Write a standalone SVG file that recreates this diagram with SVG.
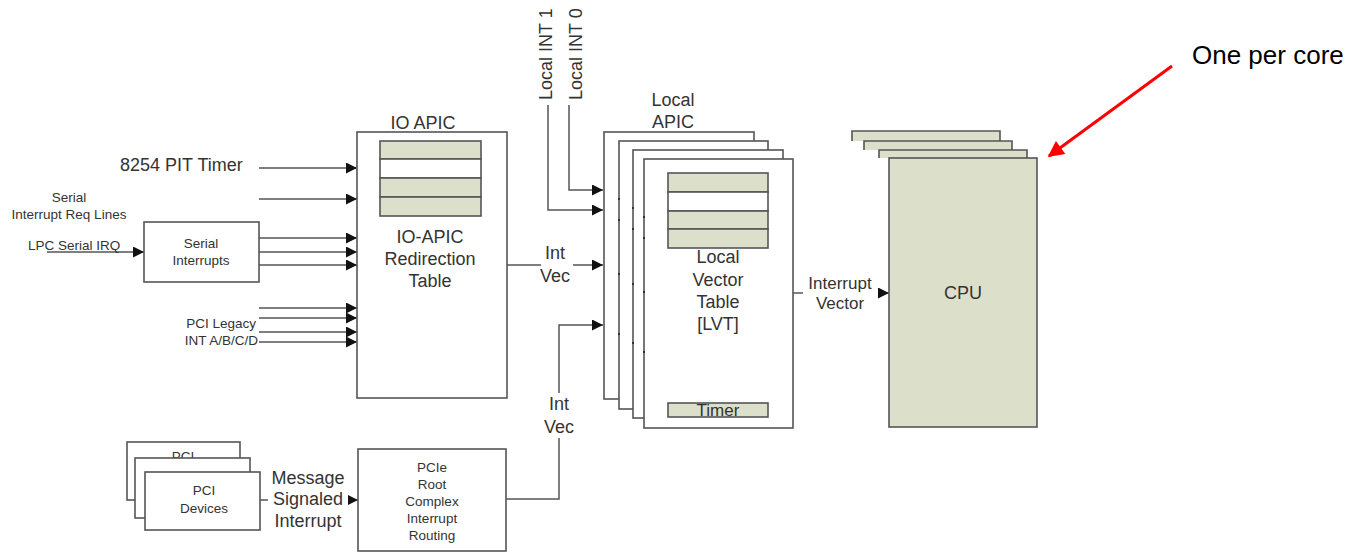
<svg xmlns="http://www.w3.org/2000/svg" width="1358" height="552" viewBox="0 0 1358 552">
<defs>
<marker id="ah" viewBox="0 0 10 10" refX="10" refY="5" markerWidth="12" markerHeight="11" markerUnits="userSpaceOnUse" orient="auto"><path d="M0,0L10,5L0,10z" fill="#111"/></marker>
<marker id="rah" viewBox="0 0 10 10" refX="9" refY="5" markerWidth="20" markerHeight="16" markerUnits="userSpaceOnUse" orient="auto"><path d="M0,0L10,5L0,10z" fill="#f00"/></marker>
<style>
.t{font-family:"Liberation Sans",Arial,sans-serif;fill:#333}
.m{text-anchor:middle}
.e{text-anchor:end}
.f18{font-size:18px}
.f17{font-size:17px}
.f13{font-size:13.5px}
.w{fill:#fff;stroke:#555;stroke-width:1.6}
.g{fill:#dcdfc9;stroke:#555;stroke-width:1.6}
.c{fill:none;stroke:#555;stroke-width:1.5}
.a{marker-end:url(#ah)}
.bg{fill:#fff;stroke:none}
.dot{fill:#333}
</style>
</defs>
<rect width="1358" height="552" fill="#fff"/>

<g id="connectors">
  <line class="c a" x1="259" y1="168" x2="357" y2="168"/>
  <line class="c a" x1="259" y1="199" x2="357" y2="199"/>
  <line class="c a" x1="47" y1="252" x2="144" y2="252"/>
  <line class="c a" x1="259" y1="238" x2="357" y2="238"/>
  <line class="c a" x1="259" y1="252" x2="357" y2="252"/>
  <line class="c a" x1="259" y1="265" x2="357" y2="265"/>
  <line class="c a" x1="259" y1="308" x2="357" y2="308"/>
  <line class="c a" x1="259" y1="318" x2="357" y2="318"/>
  <line class="c a" x1="259" y1="332" x2="357" y2="332"/>
  <line class="c a" x1="259" y1="342" x2="357" y2="342"/>
  <polyline class="c a" points="548,105 548,210 603,210"/>
  <polyline class="c a" points="569,105 569,190 603,190"/>
  <line class="c a" x1="507" y1="265" x2="603" y2="265"/>
  <polyline class="c a" points="506,499 559,499 559,325 603,325"/>
  <line class="c a" x1="260" y1="500" x2="358" y2="500"/>
  <line class="c a" x1="793" y1="293" x2="889" y2="293"/>
  <line x1="1172" y1="66" x2="1049" y2="156" stroke="#f00" stroke-width="3" marker-end="url(#rah)"/>
</g>

<g id="local-int-labels">
  <text class="t f18" x="552" y="100" transform="rotate(-90 552 100)">Local INT 1</text>
  <text class="t f18" x="582" y="100" transform="rotate(-90 582 100)">Local INT 0</text>
</g>

<g id="pit-label">
  <text class="t f18" x="120" y="171">8254 PIT Timer</text>
</g>

<g id="serial-lines-label">
  <text class="t f13 m" x="69" y="202">Serial</text>
  <text class="t f13 m" x="69" y="219">Interrupt Req Lines</text>
</g>

<g id="lpc-label">
  <text class="t f13" x="28" y="250">LPC Serial IRQ</text>
</g>

<g id="serial-interrupts">
  <rect class="w" x="144" y="222" width="115" height="60"/>
  <text class="t f13 m" x="201" y="248">Serial</text>
  <text class="t f13 m" x="201" y="265">Interrupts</text>
</g>

<g id="pci-legacy-label">
  <text class="t f13 e" x="256" y="328">PCI Legacy</text>
  <text class="t f13 e" x="258" y="345">INT A/B/C/D</text>
</g>

<g id="io-apic">
  <text class="t f18 m" x="423" y="129">IO APIC</text>
  <rect class="w" x="357" y="132" width="150" height="266"/>
  <rect class="g" x="380" y="141" width="101" height="18"/>
  <rect class="w" x="380" y="159" width="101" height="19"/>
  <rect class="g" x="380" y="178" width="101" height="19"/>
  <rect class="g" x="380" y="197" width="101" height="19"/>
  <text class="t f18 m" x="430" y="243">IO-APIC</text>
  <text class="t f18 m" x="430" y="265">Redirection</text>
  <text class="t f18 m" x="430" y="287">Table</text>
</g>

<g id="int-vec-1">
  <rect class="bg" x="538" y="240" width="35" height="50"/>
  <line class="c" x1="538" y1="265" x2="541" y2="265"/>
  <text class="t f18 m" x="555" y="259">Int</text>
  <text class="t f18 m" x="555" y="282">Vec</text>
</g>

<g id="int-vec-2">
  <rect class="bg" x="542" y="393" width="34" height="45"/>
  <text class="t f18 m" x="559" y="410">Int</text>
  <text class="t f18 m" x="559" y="433">Vec</text>
</g>

<g id="local-apic">
  <text class="t f18 m" x="673" y="106">Local</text>
  <text class="t f18 m" x="673" y="128">APIC</text>
  <rect class="w" x="604" y="132" width="150" height="267"/>
  <rect class="w" x="619" y="141" width="149" height="268"/>
  <g class="dot"><rect x="618" y="198" width="2" height="2"/><rect x="618" y="219" width="2" height="2"/><rect x="618" y="273" width="2" height="2"/><rect x="618" y="333" width="2" height="2"/></g>
  <rect class="w" x="633" y="150" width="150" height="268"/>
  <g class="dot"><rect x="632" y="207" width="2" height="2"/><rect x="632" y="228" width="2" height="2"/><rect x="632" y="283" width="2" height="2"/><rect x="632" y="342" width="2" height="2"/></g>
  <rect class="w" x="644" y="159" width="149" height="269"/>
  <g class="dot"><rect x="643" y="216" width="2" height="2"/><rect x="643" y="237" width="2" height="2"/><rect x="643" y="291" width="2" height="2"/><rect x="643" y="351" width="2" height="2"/></g>
  <rect class="g" x="668" y="173" width="100" height="19"/>
  <rect class="w" x="668" y="192" width="100" height="19"/>
  <rect class="g" x="668" y="211" width="100" height="18"/>
  <rect class="g" x="668" y="229" width="100" height="19"/>
  <text class="t f18 m" x="718" y="263">Local</text>
  <text class="t f18 m" x="718" y="286">Vector</text>
  <text class="t f18 m" x="718" y="308">Table</text>
  <text class="t f18 m" x="718" y="330">[LVT]</text>
  <rect class="g" x="668" y="403" width="100" height="14"/>
  <text class="t f17 m" x="718" y="416">Timer</text>
</g>

<g id="interrupt-vector-label">
  <rect class="bg" x="803" y="270" width="75" height="44"/>
  <text class="t f17 m" x="840" y="289">Interrupt</text>
  <text class="t f17 m" x="840" y="309">Vector</text>
</g>

<g id="cpu">
  <path class="g" d="M852,141V131H1000V141"/>
  <path class="g" d="M864,150V141H1012V150"/>
  <path class="g" d="M879,158V150H1027V158"/>
  <rect class="g" x="889" y="158" width="148" height="269"/>
  <text class="t f18 m" x="963" y="299">CPU</text>
</g>

<g id="one-per-core">
  <text x="1192" y="64" font-family="Liberation Sans, Arial, sans-serif" font-size="26" fill="#000">One per core</text>
</g>

<g id="pci-devices">
  <rect class="w" x="127" y="442" width="113" height="58"/>
  <text class="t f13 m" x="183" y="461">PCI</text>
  <rect class="w" x="135" y="458" width="115" height="60"/>
  <rect class="w" x="145" y="472" width="115" height="58"/>
  <text class="t f13 m" x="204" y="495">PCI</text>
  <text class="t f13 m" x="204" y="513">Devices</text>
</g>

<g id="msi-label">
  <rect class="bg" x="268" y="462" width="80" height="70"/>
  <text class="t f18 m" x="308" y="484">Message</text>
  <text class="t f18 m" x="308" y="505">Signaled</text>
  <text class="t f18 m" x="308" y="527">Interrupt</text>
</g>

<g id="pcie-root">
  <rect class="w" x="358" y="449" width="148" height="102"/>
  <text class="t f13 m" x="432" y="472">PCIe</text>
  <text class="t f13 m" x="432" y="489">Root</text>
  <text class="t f13 m" x="432" y="506">Complex</text>
  <text class="t f13 m" x="432" y="523">Interrupt</text>
  <text class="t f13 m" x="432" y="540">Routing</text>
</g>
</svg>
